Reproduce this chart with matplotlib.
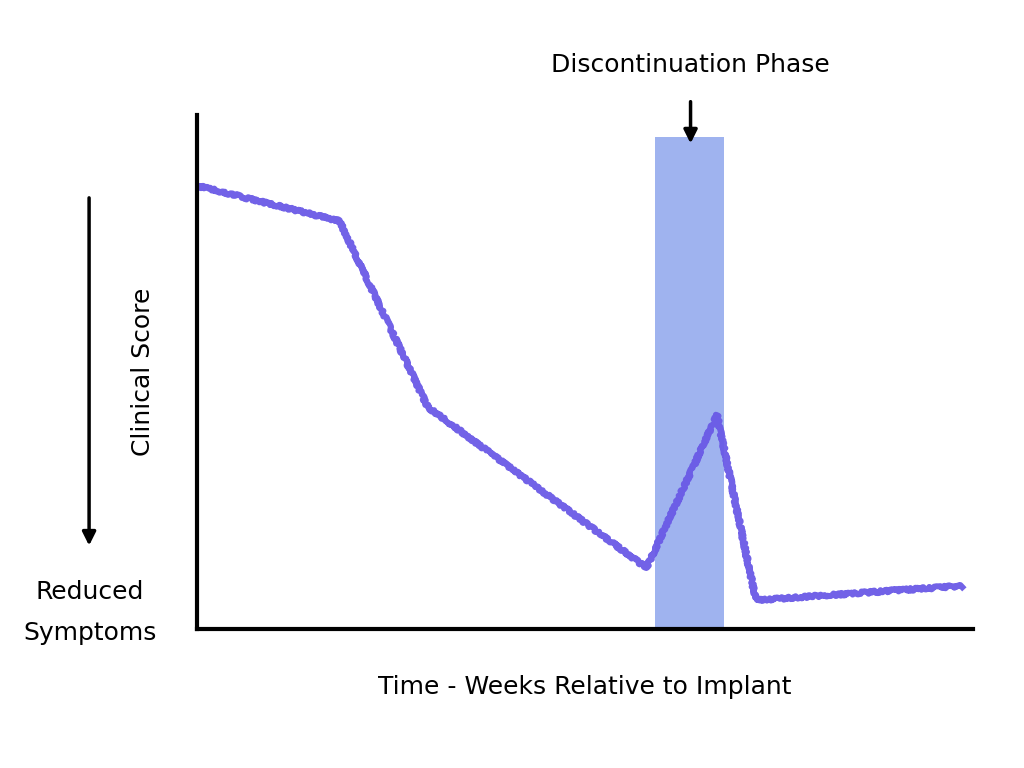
import matplotlib
matplotlib.use("Agg")
import matplotlib.pyplot as plt
from matplotlib.patches import FancyArrowPatch

# weeks (arbitrary units) and clinical score
weeks = [0.1, 8.1, 13.1, 25.5, 29.5, 31.7, 43.4]
score = [86.2, 79.4, 43.2, 11.9, 41.6, 5.6, 8.4]

# discontinuation window
stop_start = 26.0
stop_end = 29.9
stop_top = 95.7

plt.rcParams['font.family'] = ['DejaVu Sans']

fig = plt.figure(figsize=(10.24, 7.68), dpi=100)
ax = fig.add_axes([0.192, 0.181, 0.758, 0.669])

ax.bar((stop_start + stop_end) / 2, stop_top, width=stop_end - stop_start,
       color='royalblue', alpha=0.5, linewidth=0, zorder=1)
line, = ax.plot(weeks, score, color='#6a5ae6', linewidth=4.3,
                alpha=0.95, zorder=2)
line.set_sketch_params(scale=1.4, length=1.2, randomness=1.5)

ax.set_xlim(0, 44)
ax.set_ylim(0, 100)
ax.spines['top'].set_visible(False)
ax.spines['right'].set_visible(False)
ax.spines['left'].set_linewidth(3)
ax.spines['bottom'].set_linewidth(3)
ax.set_xticks([])
ax.set_yticks([])

ax.set_xlabel('Time - Weeks Relative to Implant', fontsize=18, labelpad=33)
ax.set_ylabel('Clinical Score', fontsize=18, labelpad=30)

# arrow pointing at the window
ax.annotate('Discontinuation Phase', xy=(28.0, 94.5), xytext=(28.0, 107.5),
            ha='center', va='bottom', fontsize=18, annotation_clip=False,
            arrowprops=dict(arrowstyle='-|>', color='black', lw=2.5,
                            mutation_scale=20, shrinkA=16, shrinkB=0))

# reduced symptoms arrow on the left
fig.patches.append(FancyArrowPatch(
    (0.087, 0.746), (0.087, 0.286), transform=fig.transFigure,
    arrowstyle='-|>', color='black', lw=2.5, mutation_scale=20))
fig.text(0.088, 0.203, 'Reduced\nSymptoms', ha='center', va='center',
         fontsize=18, linespacing=1.9)

fig.savefig('out.png', dpi=100)
